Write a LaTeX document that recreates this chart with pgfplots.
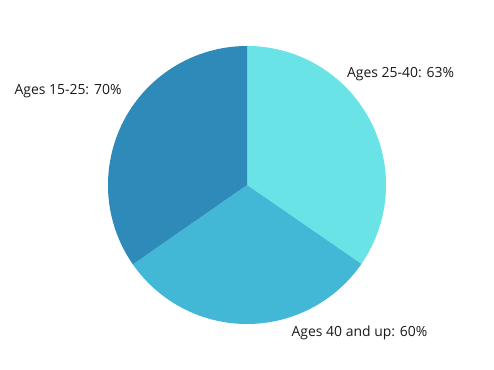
\documentclass[border=0pt]{standalone}
\usepackage{pgfplots}
\pgfplotsset{compat=1.18}
\usepackage{fontspec}
\setmainfont{Open Sans}
\definecolor{cA}{RGB}{106,227,231}
\definecolor{cB}{RGB}{66,184,214}
\definecolor{cC}{RGB}{45,138,185}
\begin{document}
\begin{tikzpicture}
\begin{axis}[
  width=494bp, height=370bp, scale only axis,
  xmin=0, xmax=494, ymin=0, ymax=370,
  hide axis, clip=false,
]
\path (axis cs:0,0) rectangle (axis cs:494,370);
% slices: start angle, end angle (clockwise from top)
\fill[cA] (axis cs:247,185) -- ++(90:139bp) arc[start angle=90, end angle=-34.6, radius=139bp] -- cycle;
\fill[cB] (axis cs:247,185) -- ++(-34.6:139bp) arc[start angle=-34.6, end angle=-145.2, radius=139bp] -- cycle;
\fill[cC] (axis cs:247,185) -- ++(-145.2:139bp) arc[start angle=-145.2, end angle=-270, radius=139bp] -- cycle;
\node[font=\fontsize{14}{16}\selectfont, text=black!90, inner sep=0pt] at (axis cs:400.5,296) {Ages 25-40: 63\%};
\node[font=\fontsize{14}{16}\selectfont, text=black!90, inner sep=0pt] at (axis cs:68,279) {Ages 15-25: 70\%};
\node[font=\fontsize{14}{16}\selectfont, text=black!90, inner sep=0pt] at (axis cs:359.5,37) {Ages 40 and up: 60\%};
\end{axis}
\end{tikzpicture}
\end{document}
